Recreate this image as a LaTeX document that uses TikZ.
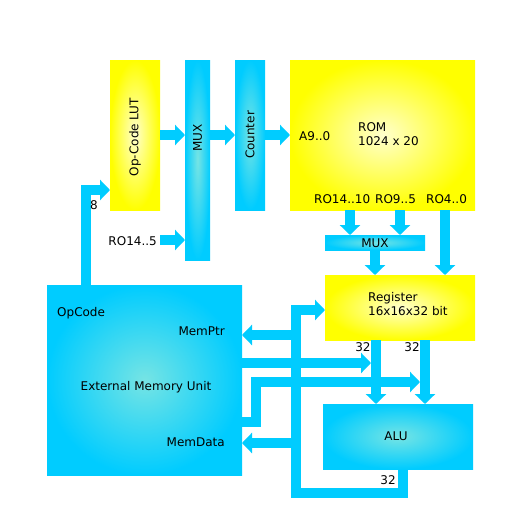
\documentclass[tikz,border=0pt]{standalone}
\usepackage{fontspec}
\setmainfont{DejaVu Sans}
\usetikzlibrary{arrows.meta}
\definecolor{cy}{RGB}{0,204,255}
\definecolor{cyc}{RGB}{118,228,228}
\definecolor{ye}{RGB}{255,255,0}
\definecolor{yec}{RGB}{255,255,205}
\begin{document}
\begin{tikzpicture}[x=1pt,y=-1pt,font=\fontsize{12}{14}\selectfont,
  ybox/.style={inner sep=0pt,outer sep=0pt,anchor=north west,shading=radial,inner color=yec,outer color=ye},
  cbox/.style={inner sep=0pt,outer sep=0pt,anchor=north west,shading=radial,inner color=cyc,outer color=cy},
  bus/.style={line width=10pt,draw=cy,line join=miter,-{Triangle[width=20pt,length=10pt]}},
  lbl/.style={inner sep=0pt,text=black}]
\useasboundingbox (0,0) rectangle (520,520);
\fill[white] (0,0) rectangle (520,520);
% boxes
\node[ybox,minimum width=50pt,minimum height=150pt] (lut) at (110,60) {};
\node[cbox,minimum width=25pt,minimum height=200pt] (mux) at (185,60) {};
\node[cbox,minimum width=30pt,minimum height=150pt] (cnt) at (235,60) {};
\node[ybox,minimum width=185pt,minimum height=150pt] (rom) at (290,60) {};
\node[cbox,minimum width=100pt,minimum height=15pt] (smux) at (325,235) {};
\node[ybox,minimum width=150pt,minimum height=65pt] (reg) at (325,275) {};
\node[cbox,minimum width=195pt,minimum height=190pt] (emu) at (47,285) {};
\node[cbox,minimum width=150pt,minimum height=65pt] (alu) at (323,404) {};
% coordinates
\coordinate (x8) at (86,190);
\coordinate (yr5) at (160,240);
\coordinate (xa1) at (350,0);
\coordinate (xa2) at (400,0);
\coordinate (xa3) at (445,0);
\coordinate (xm) at (375,0);
\coordinate (xb1) at (376,0);
\coordinate (xb2) at (425,0);
\coordinate (xo) at (403,0);
\coordinate (k1) at (403,493);
\coordinate (k2) at (296,493);
\coordinate (k3) at (296,310);
\coordinate (mp) at (296,335);
\coordinate (md) at (296,443);
\coordinate (t1) at (371,363);
\coordinate (e2) at (256,422);
\coordinate (e3) at (256,382);
\coordinate (e4) at (420,382);
% connectors
\draw[bus] (lut.east) -- (mux.west |- lut.east);
\draw[bus] (mux.east |- lut.east) -- (cnt.west |- lut.east);
\draw[bus] (cnt.east) -- (rom.west |- cnt.east);
\draw[bus] (emu.north -| x8) -- (x8) -- (x8 -| lut.west);
\draw[bus] (yr5) -- (yr5 -| mux.west);
\draw[bus] (rom.south -| xa1) -- (smux.north -| xa1);
\draw[bus] (rom.south -| xa2) -- (smux.north -| xa2);
\draw[bus] (rom.south -| xa3) -- (reg.north -| xa3);
\draw[bus] (smux.south -| xm) -- (reg.north -| xm);
\draw[bus] (reg.south -| xb1) -- (alu.north -| xb1);
\draw[bus] (reg.south -| xb2) -- (alu.north -| xb2);
\draw[bus] (alu.south -| xo) -- (k1) -- (k2) -- (k3) -- (k3 -| reg.west);
\draw[bus] (mp) -- (mp -| emu.east);
\draw[bus] (md) -- (md -| emu.east);
\draw[bus] (emu.east |- t1) -- (t1);
\draw[bus] (emu.east |- e2) -- (e2) -- (e3) -- (e4);
% labels
\node[lbl,rotate=90] (tlut) at (135,137) {Op-Code LUT};
\node[lbl,rotate=90] (tmux) at (197.5,138) {MUX};
\node[lbl,rotate=90] (tcnt) at (250,135) {Counter};
\node[lbl,anchor=west] (ta9) at (299,136) {A9..0};
\node[lbl,anchor=west,align=left] (trom) at (358,134) {ROM\\1024 x 20};
\node[lbl,anchor=west] (tro1) at (314,199) {RO14..10};
\node[lbl,anchor=west] (tro2) at (375,199) {RO9..5};
\node[lbl,anchor=west] (tro3) at (426,199) {RO4..0};
\node[lbl] (tsmux) at (375,243) {MUX};
\node[lbl,anchor=west,align=left] (treg) at (368,304) {Register\\16x16x32 bit};
\node[lbl] (t32a) at (363,347) {32};
\node[lbl] (t32b) at (412,347) {32};
\node[lbl] (t32c) at (388,480) {32};
\node[lbl] (talu) at (396,436) {ALU};
\node[lbl] (t8) at (94,205) {8};
\node[lbl,anchor=east] (tr5) at (157,241) {RO14..5};
\node[lbl,anchor=west] (top) at (57,313) {OpCode};
\node[lbl,anchor=east] (tmp) at (225,331) {MemPtr};
\node[lbl] (temu) at (146,387) {External Memory Unit};
\node[lbl,anchor=east] (tmd) at (225,442) {MemData};
\end{tikzpicture}
\end{document}
